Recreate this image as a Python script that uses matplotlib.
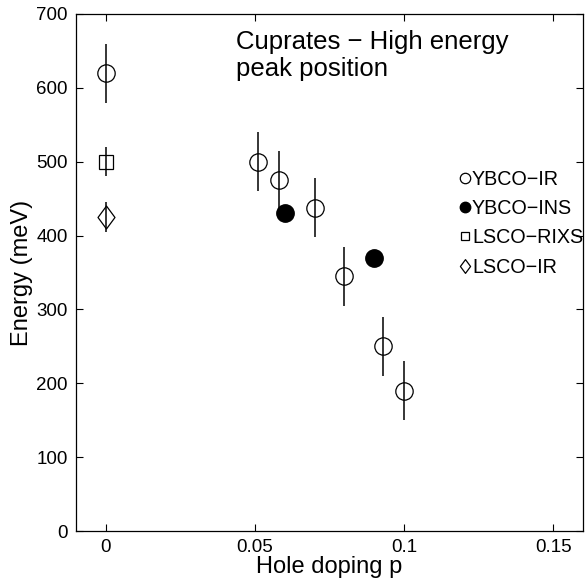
import numpy as np
import matplotlib.pyplot as plt
from matplotlib.path import Path

plt.rcParams['font.family'] = ['Liberation Sans', 'DejaVu Sans']
plt.rcParams['axes.unicode_minus'] = True

#-------------- data --------------
ybco_ir_p = [0.0, 0.051, 0.058, 0.070, 0.080, 0.093, 0.100]
ybco_ir_E = [620, 500, 475, 438, 345, 250, 190]
ybco_ir_err = [40, 40, 40, 40, 40, 40, 40]

ybco_ins_p = [0.060, 0.090]
ybco_ins_E = [430, 370]

lsco_rixs_p = [0.0]
lsco_rixs_E = [500]
lsco_rixs_err = [20]

lsco_ir_p = [0.0]
lsco_ir_E = [425]
lsco_ir_err = [20]
#----------------------------------

diamond = Path([(0, 1), (0.74, 0), (0, -1), (-0.74, 0), (0, 1)],
               [Path.MOVETO, Path.LINETO, Path.LINETO, Path.LINETO, Path.CLOSEPOLY])

fig = plt.figure(figsize=(5.87, 5.80), dpi=100)
ax = fig.add_axes([76/587, 1-531/580, (583-76)/587, (531-14)/580])

ax.errorbar(ybco_ir_p, ybco_ir_E, yerr=ybco_ir_err, fmt='none', ecolor='k', elinewidth=1.1, capsize=0)
ax.errorbar(lsco_rixs_p, lsco_rixs_E, yerr=lsco_rixs_err, fmt='none', ecolor='k', elinewidth=1.1, capsize=0)
ax.errorbar(lsco_ir_p, lsco_ir_E, yerr=lsco_ir_err, fmt='none', ecolor='k', elinewidth=1.1, capsize=0)

ax.plot(ybco_ir_p, ybco_ir_E, 'o', ms=12.5, mfc='none', mec='k', mew=0.9, ls='none', label='YBCO\u2212IR')
ax.plot(ybco_ins_p, ybco_ins_E, 'o', ms=12.5, mfc='k', mec='k', ls='none', label='YBCO\u2212INS')
ax.plot(lsco_rixs_p, lsco_rixs_E, 's', ms=10, mfc='none', mec='k', mew=0.9, ls='none', label='LSCO\u2212RIXS')
ax.plot(lsco_ir_p, lsco_ir_E, marker=diamond, ms=16.5, mfc='none', mec='k', mew=0.9, ls='none', label='LSCO\u2212IR')

ax.set_xlim(-0.01, 0.16)
ax.set_ylim(0, 700)
ax.set_xticks([0, 0.05, 0.1, 0.15])
ax.set_xticklabels(['0', '0.05', '0.1', '0.15'])
ax.set_yticks(np.arange(0, 701, 100))
ax.tick_params(direction='in', top=True, right=True, length=5, width=0.8, labelsize=13.5, pad=6)
for s in ax.spines.values():
    s.set_linewidth(0.9)

ax.set_xlabel('Hole doping p', fontsize=17, labelpad=0)
ax.set_ylabel('Energy (meV)', fontsize=17, labelpad=2)

ax.text(0.0437, 678, 'Cuprates \u2212 High energy\npeak position', fontsize=18.5, va='top', ha='left',
        linespacing=1.17)

leg = ax.legend(loc='upper left', bbox_to_anchor=(450/587, 1-160/580), bbox_transform=fig.transFigure,
                frameon=False, fontsize=14.2, handlelength=0.5, handletextpad=0.12, labelspacing=0.52,
                borderpad=0, markerscale=0.6)

fig.savefig('out.png', dpi=100)
